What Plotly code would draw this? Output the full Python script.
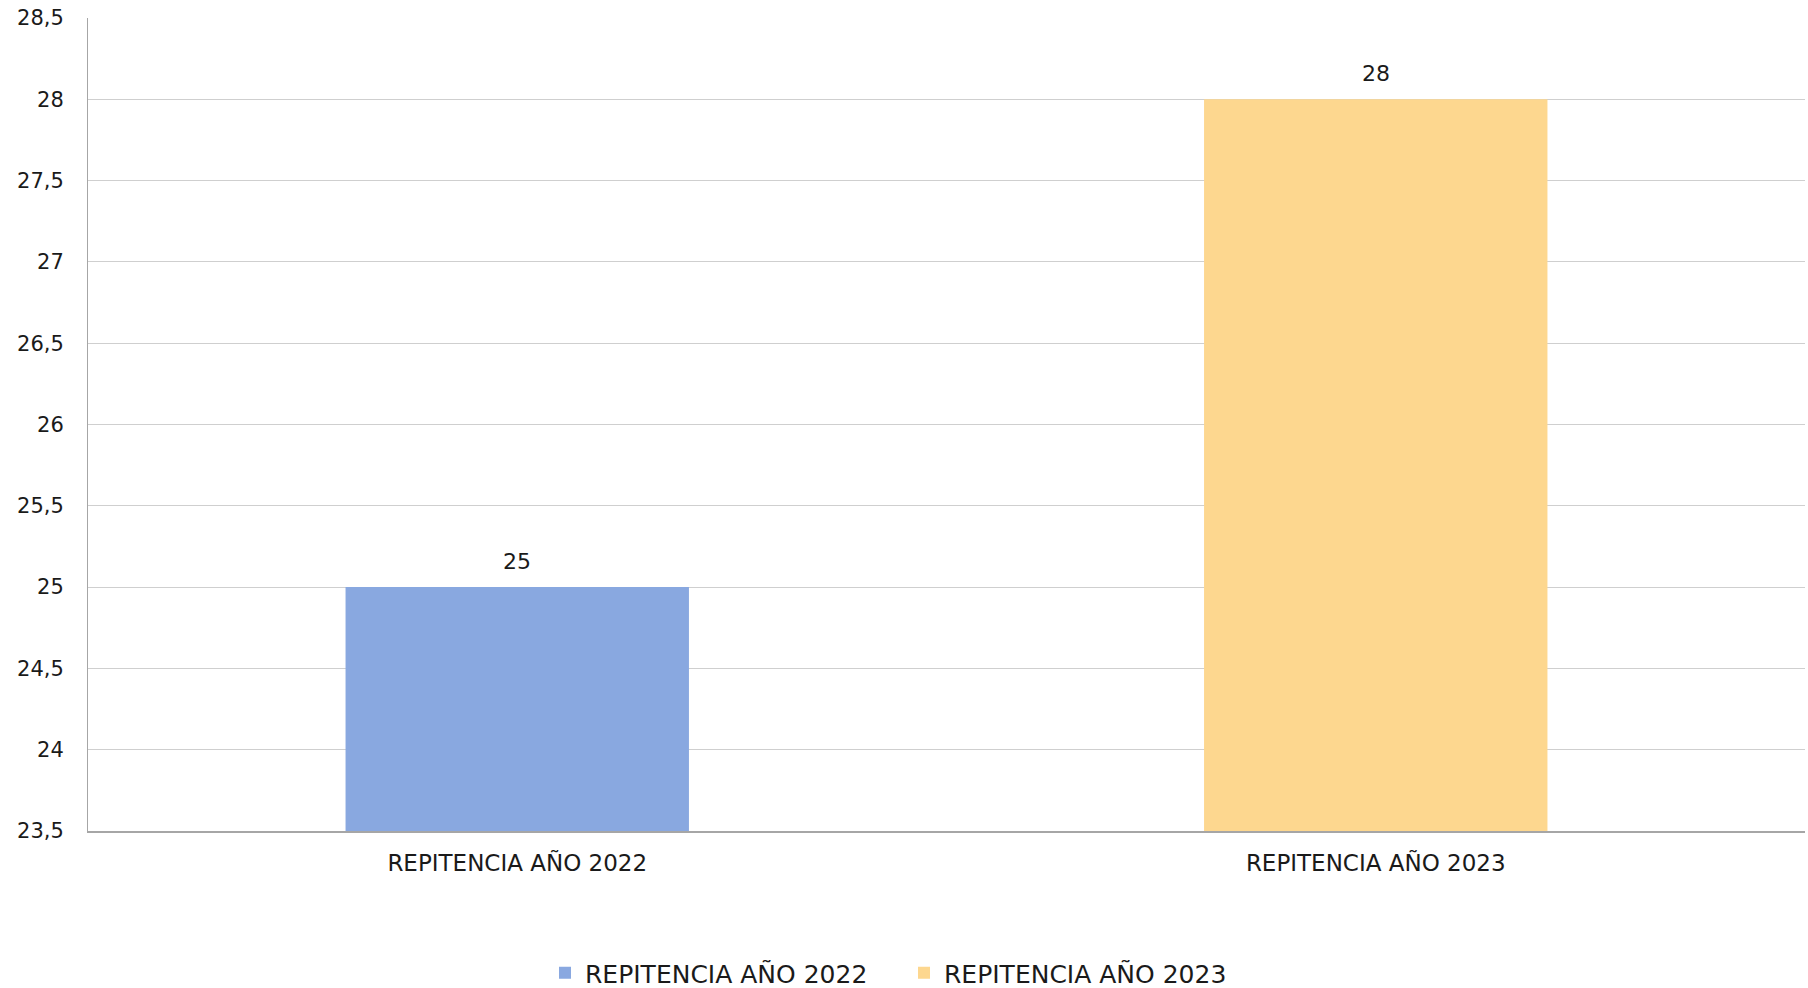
import plotly.graph_objects as go

categories = ["REPITENCIA AÑO 2022", "REPITENCIA AÑO 2023"]
values = [25, 28]
colors = ["#89A8E0", "#FDD78F"]

FONT = "DejaVu Sans"
TXT = "#1a1a1a"

fig = go.Figure()
for cat, val, col in zip(categories, values, colors):
    fig.add_trace(go.Bar(
        x=[cat], y=[val], name=cat, marker=dict(color=col, line=dict(width=0)),
        width=0.4, hoverinfo="x+y",
    ))
    fig.add_annotation(
        x=cat, y=val, text=str(val), showarrow=False, yshift=26, yanchor="middle",
        font=dict(family=FONT, size=22, color=TXT),
    )

fig.update_layout(
    width=1808, height=988,
    margin=dict(l=88, r=3, t=18, b=157, autoexpand=False),
    plot_bgcolor="white", paper_bgcolor="white",
    barmode="overlay",
    separators=", ",
    font=dict(family=FONT, color=TXT),
    showlegend=True,
    legend=dict(
        orientation="h", x=0.5, xanchor="center", xref="container",
        y=1 - 973 / 988, yanchor="middle", yref="container",
        font=dict(family=FONT, size=25, color=TXT),
        traceorder="normal", entrywidth=314, entrywidthmode="pixels",
    ),
)
fig.update_xaxes(
    showgrid=False, showline=True, linecolor="#a6a6a6", linewidth=2,
    tickfont=dict(family=FONT, size=23, color=TXT),
    ticks="", ticklabelstandoff=10,
)
fig.update_yaxes(
    range=[23.5, 28.5], dtick=0.5, showgrid=True, gridcolor="#cfcfcf", gridwidth=1,
    showline=True, linecolor="#a6a6a6", linewidth=1, zeroline=False,
    tickfont=dict(family=FONT, size=21, color=TXT),
    ticks="", ticklabelstandoff=19, ticklabeloverflow="allow",
)

fig.write_html(
    "out.html",
    config={"displayModeBar": False},
    post_script="document.body.style.margin='0';",
)
